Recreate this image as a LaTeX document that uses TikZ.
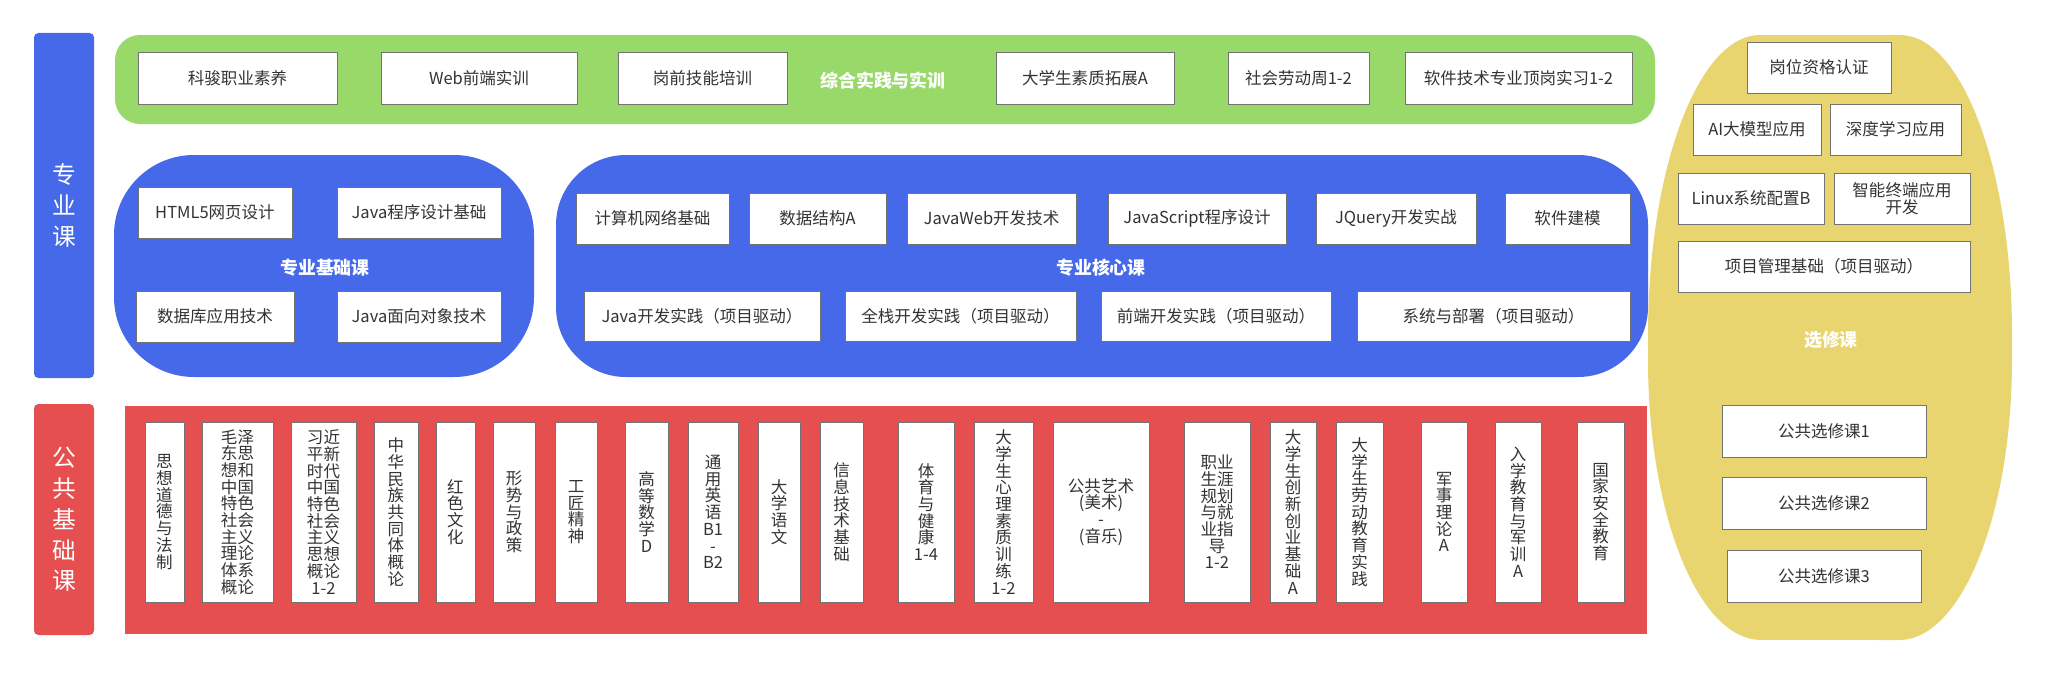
\documentclass[tikz,border=0pt]{standalone}
\usepackage{fontspec}
\setmainfont{Noto Sans CJK SC}

\definecolor{azul}{RGB}{69,105,233}
\definecolor{verde}{RGB}{152,217,106}
\definecolor{rojo}{RGB}{229,79,79}
\definecolor{amarillo}{RGB}{233,213,111}

% Caja entre dos esquinas (en píxeles): [estilo]{nombre}{x1}{y1}{x2}{y2}{texto}
\newcommand{\caja}[7][caja]{%
  \pgfmathsetmacro{\cx}{(#3+#5)/2}\pgfmathsetmacro{\cy}{(#4+#6)/2}%
  \pgfmathsetmacro{\ancho}{(#5-#3)*0.02}\pgfmathsetmacro{\alto}{(#6-#4)*0.02}%
  \node[#1, minimum width=\ancho cm, minimum height=\alto cm] (#2) at (\cx,\cy) {#7};}

\begin{document}
\begin{tikzpicture}[x=0.02cm, y=-0.02cm,
    caja/.style={draw=black!55, fill=white, inner sep=0pt, align=center,
      text=black!80, font=\fontsize{9.4}{9.5}\selectfont},
    titulo/.style={text=white, font=\bfseries\fontsize{10.2}{12}\selectfont},
    lateral/.style={rounded corners=2.5pt, inner sep=0pt, align=center,
      text=white, font=\fontsize{13.5}{17.5}\selectfont}]

      \useasboundingbox (0,0) rectangle (2048,676);

      % Barras laterales
      \caja[lateral, fill=azul]{zyk}{34}{33}{94}{378}{专\\业\\课}
      \caja[lateral, fill=rojo]{ggjc}{34}{404}{94}{635}{公\\共\\基\\础\\课}

      %-------------------------------------
      % FONDOS DE CADA GRUPO
      %-------------------------------------
      \fill[verde, rounded corners=0.5cm] (115,35) rectangle (1655,124);
      \fill[azul, rounded corners=1.6cm] (114,155) rectangle (534,377);
      \fill[azul, rounded corners=1.4cm] (556,155) rectangle (1648,377);
      \fill[rojo] (125,406) rectangle (1647,634);
      % Forma del grupo optativo (esquinas elípticas)
      \fill[amarillo] (1760,35)
        arc[start angle=90, end angle=180, x radius=2.24cm, y radius=6cm] -- (1648,360)
        arc[start angle=180, end angle=270, x radius=2.26cm, y radius=5.6cm] -- (1899,640)
        arc[start angle=270, end angle=360, x radius=2.26cm, y radius=5.6cm] -- (2012,335)
        arc[start angle=0, end angle=90, x radius=2.24cm, y radius=6cm] -- cycle;

      % Práctica integral
      \caja{kjzy}{138}{52}{337}{104}{科骏职业素养}
      \caja{webqd}{381}{52}{577}{104}{Web前端实训}
      \caja{gqjn}{618}{52}{787}{104}{岗前技能培训}
      \node[titulo] (zhsj) at (883,81) {综合实践与实训};
      \caja{dxsz}{996}{52}{1174}{104}{大学生素质拓展A}
      \caja{shld}{1228}{52}{1369}{104}{社会劳动周1-2}
      \caja{dgsx}{1405}{52}{1632}{104}{软件技术专业顶岗实习1-2}

      % Básicas de la especialidad
      \caja{html}{138}{187}{292}{238}{HTML5网页设计}
      \caja{jcjc}{337}{187}{501}{238}{Java程序设计基础}
      \node[titulo] (zyjc) at (325,268) {专业基础课};
      \caja{sjk}{136}{291}{294}{342}{数据库应用技术}
      \caja{mxdx}{337}{291}{501}{342}{Java面向对象技术}

      % Núcleo de la especialidad
      \caja{jsjwl}{576}{193}{729}{244}{计算机网络基础}
      \caja{sjjg}{749}{193}{886}{244}{数据结构A}
      \caja{jweb}{907}{193}{1076}{244}{JavaWeb开发技术}
      \caja{jscr}{1108}{193}{1286}{244}{JavaScript程序设计}
      \caja{jqry}{1316}{193}{1476}{244}{JQuery开发实战}
      \caja{rjjm}{1505}{193}{1630}{244}{软件建模}
      \node[titulo] (zyhx) at (1101,268) {专业核心课};
      \caja{jkf}{584}{291}{820}{341}{Java开发实践（项目驱动）}
      \caja{qzkf}{845}{291}{1076}{341}{全栈开发实践（项目驱动）}
      \caja{qdkf}{1101}{291}{1331}{341}{前端开发实践（项目驱动）}
      \caja{xtbs}{1357}{291}{1630}{341}{系统与部署（项目驱动）}

      % Optativas
      \caja{gwzg}{1747}{42}{1891}{93}{岗位资格认证}
      \caja{aidm}{1693}{104}{1821}{155}{AI大模型应用}
      \caja{sdxx}{1830}{104}{1961}{155}{深度学习应用}
      \caja{linux}{1678}{173}{1824}{224}{Linux系统配置B}
      \caja{znzd}{1834}{173}{1970}{224}{智能终端应用\\开发}
      \caja{xmgl}{1678}{241}{1970}{292}{项目管理基础（项目驱动）}
      \node[titulo] (xxk) at (1831,340) {选修课};
      \caja{gx1}{1722}{405}{1926}{457}{公共选修课1}
      \caja{gx2}{1722}{477}{1926}{529}{公共选修课2}
      \caja{gx3}{1727}{550}{1921}{602}{公共选修课3}

      %-------------------------------------
      % BÁSICAS COMUNES (texto en vertical)
      %-------------------------------------
      \caja{sxdd}{145}{422}{184}{602}{思\\想\\道\\德\\与\\法\\制}
      \caja{mzd}{202}{422}{273}{602}{毛泽\\东思\\想和\\中国\\特色\\社会\\主义\\理论\\体系\\概论}
      \caja{xjp}{291}{422}{356}{602}{习近\\平新\\时代\\中国\\特色\\社会\\主义\\思想\\概论\\1-2}
      \caja{zhmz}{374}{422}{418}{602}{中\\华\\民\\族\\共\\同\\体\\概\\论}
      \caja{hswh}{436}{422}{475}{602}{红\\色\\文\\化}
      \caja{xszc}{493}{422}{535}{602}{形\\势\\与\\政\\策}
      \caja{gjjs}{555}{422}{597}{602}{工\\匠\\精\\神}
      \caja{gdsx}{625}{422}{668}{602}{高\\等\\数\\学\\D}
      \caja{tyyy}{688}{422}{738}{602}{通\\用\\英\\语\\B1\\-\\B2}
      \caja{dxyw}{758}{422}{800}{602}{大\\学\\语\\文}
      \caja{xxjs}{820}{422}{863}{602}{信\\息\\技\\术\\基\\础}
      \caja{tyjk}{898}{422}{954}{602}{体\\育\\与\\健\\康\\1-4}
      \caja{xlsz}{974}{422}{1033}{602}{大\\学\\生\\心\\理\\素\\质\\训\\练\\1-2}
      \caja{ggys}{1053}{422}{1149}{602}{公共艺术\\(美术)\\-\\(音乐)}
      \caja{zysy}{1184}{422}{1250}{602}{职业\\生涯\\规划\\与就\\业指\\导\\1-2}
      \caja{cxcy}{1270}{422}{1316}{602}{大\\学\\生\\创\\新\\创\\业\\基\\础\\A}
      \caja{ldjy}{1336}{422}{1383}{602}{大\\学\\生\\劳\\动\\教\\育\\实\\践}
      \caja{jsll}{1421}{422}{1467}{602}{军\\事\\理\\论\\A}
      \caja{rxjy}{1495}{422}{1541}{602}{入\\学\\教\\育\\与\\军\\训\\A}
      \caja{gjaq}{1577}{422}{1624}{602}{国\\家\\安\\全\\教\\育}

\end{tikzpicture}
\end{document}
